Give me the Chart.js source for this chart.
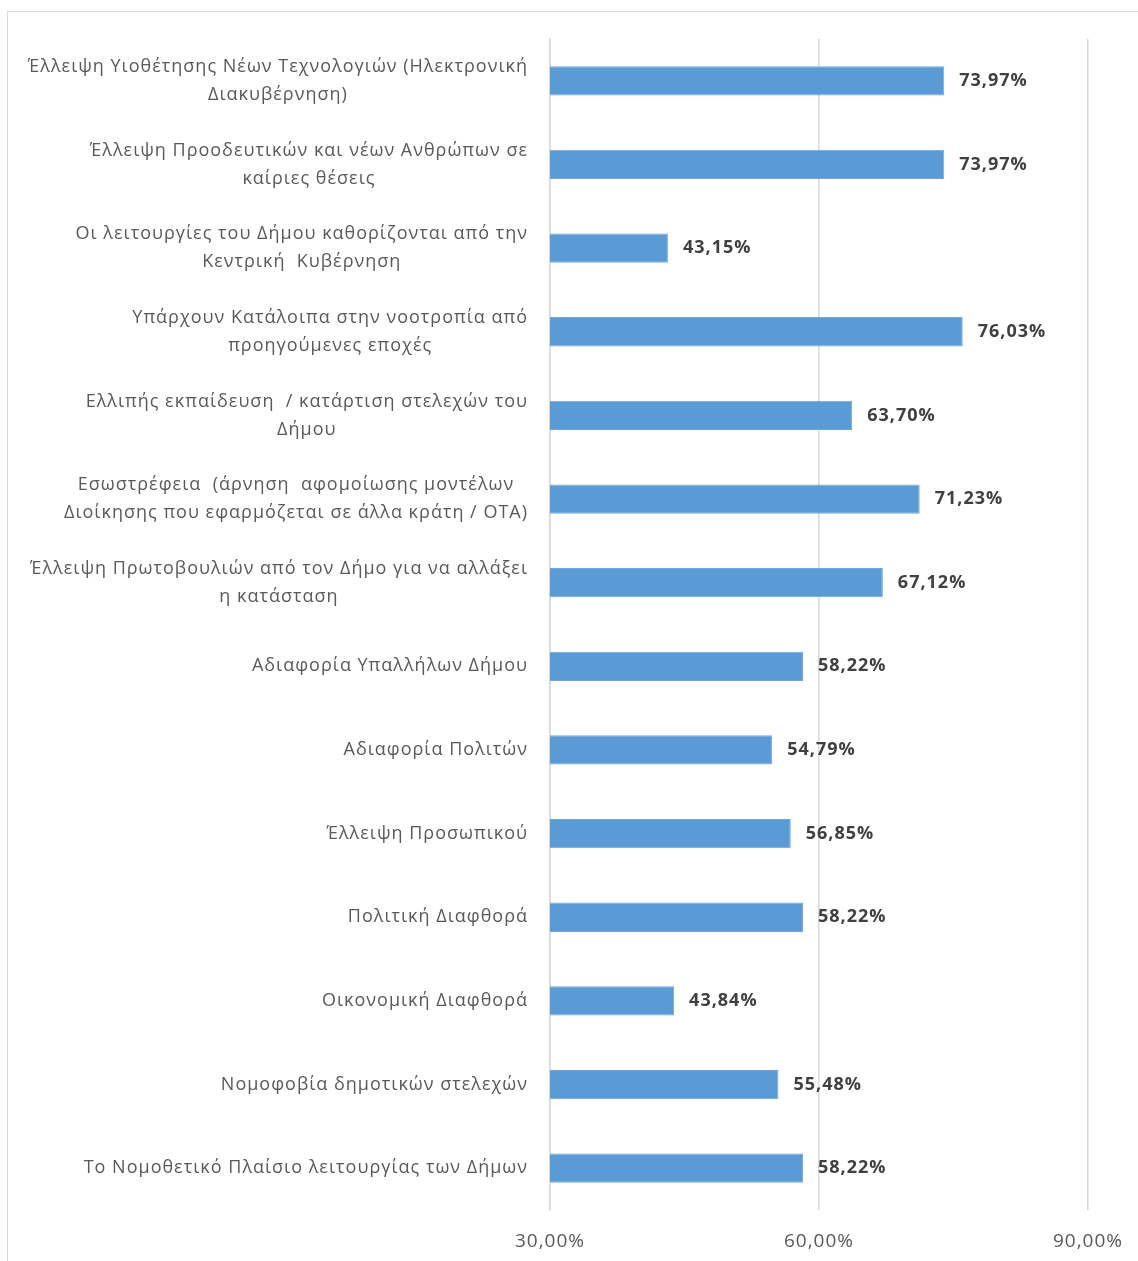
<!DOCTYPE html>
<html lang="el">
<head>
<meta charset="utf-8">
<title>Παράγοντες</title>
<script src="https://cdn.jsdelivr.net/npm/chart.js@4.4.1/dist/chart.umd.min.js"></script>
<style>
  html, body { margin: 0; padding: 0; background: #fff; overflow: hidden; }
  #frame {
    position: absolute; left: 7px; top: 11px; width: 1200px; height: 1300px;
    border: 1px solid #d9d9d9; box-sizing: border-box;
  }
  #wrap { position: absolute; left: 0; top: 0; width: 1138px; height: 1261px; }
</style>
</head>
<body>
<div id="frame"></div>
<div id="wrap"><canvas id="chart" width="1138" height="1261"></canvas></div>
<script>
const categories = [
  ["Έλλειψη Υιοθέτησης Νέων Τεχνολογιών (Ηλεκτρονική", "Διακυβέρνηση)"],
  ["Έλλειψη Προοδευτικών και νέων Ανθρώπων σε", "καίριες θέσεις"],
  ["Οι λειτουργίες του Δήμου καθορίζονται από την", "Κεντρική  Κυβέρνηση"],
  ["Υπάρχουν Κατάλοιπα στην νοοτροπία από", "προηγούμενες εποχές"],
  ["Ελλιπής εκπαίδευση  / κατάρτιση στελεχών του", "Δήμου"],
  ["Εσωστρέφεια  (άρνηση  αφομοίωσης μοντέλων", "Διοίκησης που εφαρμόζεται σε άλλα κράτη / ΟΤΑ)"],
  ["Έλλειψη Πρωτοβουλιών από τον Δήμο για να αλλάξει", "η κατάσταση"],
  ["Αδιαφορία Υπαλλήλων Δήμου"],
  ["Αδιαφορία Πολιτών"],
  ["Έλλειψη Προσωπικού"],
  ["Πολιτική Διαφθορά"],
  ["Οικονομική Διαφθορά"],
  ["Νομοφοβία δημοτικών στελεχών"],
  ["Το Νομοθετικό Πλαίσιο λειτουργίας των Δήμων"]
];
const values = [73.97, 73.97, 43.15, 76.03, 63.70, 71.23, 67.12, 58.22, 54.79, 56.85, 58.22, 43.84, 55.48, 58.22];
const axisTicks = [30, 60, 90];

const fmt = v => v.toFixed(2).replace(".", ",") + "%";

// slightly looser letter spacing for all text on the canvas
const spacing = {
  id: "spacing",
  beforeDraw(chart) { chart.ctx.letterSpacing = "1px"; }
};

// category names, right-aligned as blocks with centred lines
const categoryLabels = {
  id: "categoryLabels",
  afterDraw(chart) {
    const ctx = chart.ctx;
    const y = chart.scales.y;
    const right = chart.chartArea.left - 22;
    const lineH = 28;
    ctx.save();
    ctx.letterSpacing = "1px";
    ctx.font = "18px 'Open Sans'";
    ctx.fillStyle = "#595959";
    ctx.textAlign = "center";
    ctx.textBaseline = "middle";
    categories.forEach((lines, i) => {
      const w = Math.max(...lines.map(l => ctx.measureText(l).width));
      const cx = right - w / 2;
      const cy = y.getPixelForTick(i);
      const top = cy - (lines.length - 1) * lineH / 2;
      lines.forEach((l, k) => ctx.fillText(l, cx, top + k * lineH));
    });
    ctx.restore();
  }
};

// value labels after each bar
const valueLabels = {
  id: "valueLabels",
  afterDatasetsDraw(chart) {
    const ctx = chart.ctx;
    const meta = chart.getDatasetMeta(0);
    ctx.save();
    ctx.letterSpacing = "1px";
    ctx.font = "bold 18px 'Open Sans'";
    ctx.fillStyle = "#404040";
    ctx.textAlign = "left";
    ctx.textBaseline = "middle";
    meta.data.forEach((bar, i) => {
      ctx.fillText(fmt(values[i]), bar.x + 15, bar.y);
    });
    ctx.restore();
  }
};

new Chart(document.getElementById("chart"), {
  type: "bar",
  data: {
    labels: categories.map(c => c.join(" ")),
    datasets: [{
      data: values,
      backgroundColor: "#5b9bd5",
      borderColor: "#6fa8dc",
      borderWidth: 1,
      barPercentage: 0.35,
      categoryPercentage: 1
    }]
  },
  options: {
    indexAxis: "y",
    responsive: false,
    animation: false,
    layout: { padding: { top: 39, right: 50, left: 0, bottom: 0 } },
    plugins: { legend: { display: false }, tooltip: { enabled: false } },
    scales: {
      x: {
        min: 30,
        max: 90,
        afterBuildTicks: s => { s.ticks = axisTicks.map(v => ({ value: v })); },
        afterFit: s => { s.height = 51; s.paddingLeft = 0; s.paddingRight = 0; },
        grid: { color: "#d9d9d9", lineWidth: 1.5, drawTicks: false },
        border: { display: false },
        ticks: {
          color: "#595959",
          font: { family: "'Open Sans'", size: 19 },
          padding: 20,
          maxRotation: 0,
          callback: v => v.toFixed(2).replace(".", ",") + "%"
        }
      },
      y: {
        afterFit: s => { s.width = 550; },
        grid: { display: false },
        border: { color: "#d9d9d9", width: 1.5 },
        ticks: { display: false }
      }
    }
  },
  plugins: [spacing, categoryLabels, valueLabels]
});
</script>
</body>
</html>
